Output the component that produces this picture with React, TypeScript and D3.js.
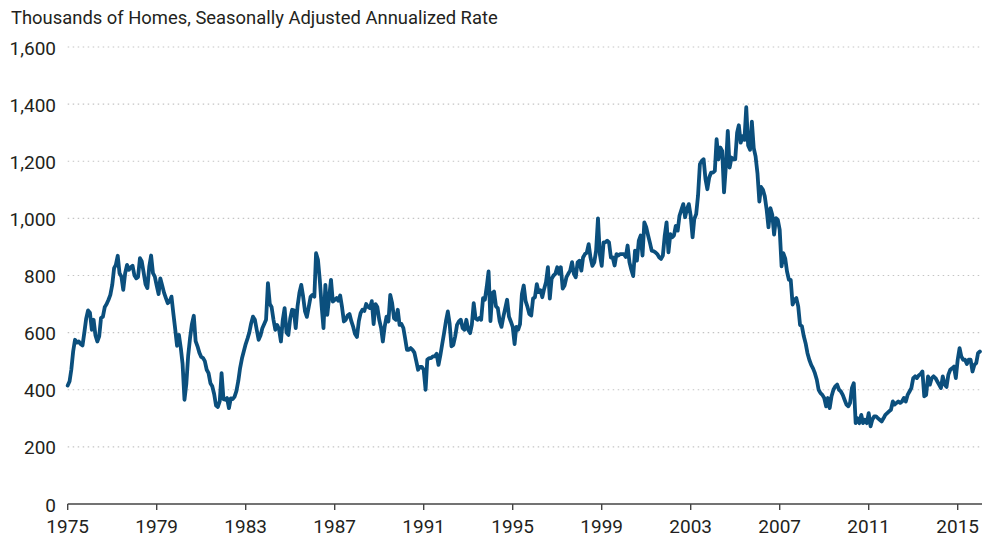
import * as d3 from "d3";
import { useEffect } from "react";

// new single-family home sales, thousands, SAAR, monthly from Jan 1975
const startYear = 1975;

const sales1975to1979 = [
  415, 430, 470, 535, 575, 565, 569, 560, 555, 600, 650, 678, // 1975
  670, 610, 645, 590, 569, 587, 651, 656, 690, 700, 715, 732, // 1976
  767, 826, 837, 869, 808, 796, 750, 808, 837, 820, 829, 834, // 1977
  800, 790, 795, 861, 849, 810, 770, 756, 831, 870, 808, 796, // 1978
  765, 735, 790, 765, 740, 721, 703, 709, 726, 668, 612, 554, // 1979
];

const sales1980to1984 = [
  592, 545, 490, 365, 420, 520, 580, 630, 659, 570, 552, 530, // 1980
  515, 511, 500, 470, 458, 423, 412, 385, 345, 340, 360, 458, // 1981
  367, 365, 371, 336, 370, 367, 375, 395, 430, 476, 510, 535, // 1982
  560, 580, 600, 633, 656, 645, 610, 575, 590, 615, 630, 645, // 1983
  773, 700, 690, 645, 610, 627, 612, 569, 645, 686, 600, 592, // 1984
];

const sales1985to1989 = [
  650, 680, 678, 616, 692, 740, 767, 726, 674, 655, 690, 725, // 1985
  732, 726, 878, 855, 785, 692, 616, 767, 662, 721, 785, 709, // 1986
  715, 721, 712, 730, 690, 639, 645, 660, 665, 640, 620, 595, // 1987
  585, 640, 668, 680, 676, 700, 690, 686, 710, 630, 700, 690, // 1988
  645, 616, 569, 622, 656, 639, 732, 703, 650, 645, 680, 627, // 1989
];

const sales1990to1994 = [
  630, 616, 581, 540, 540, 546, 540, 530, 500, 470, 480, 480, // 1990
  470, 400, 505, 511, 511, 517, 517, 526, 487, 520, 560, 598, // 1991
  640, 674, 633, 552, 557, 587, 627, 639, 645, 616, 610, 645, // 1992
  610, 598, 627, 703, 650, 645, 651, 645, 721, 715, 761, 814, // 1993
  640, 738, 744, 692, 686, 640, 620, 656, 686, 715, 656, 639, // 1994
];

const sales1995to1999 = [
  620, 560, 620, 610, 630, 735, 765, 710, 690, 665, 660, 719, // 1995
  724, 770, 742, 748, 724, 754, 777, 829, 719, 788, 800, 806, // 1996
  829, 806, 829, 754, 765, 794, 806, 817, 847, 806, 794, 846, // 1997
  852, 817, 863, 875, 880, 910, 863, 834, 846, 887, 1000, 875, // 1998
  834, 916, 916, 922, 916, 863, 863, 835, 875, 870, 875, 875, // 1999
];

const sales2000to2004 = [
  875, 865, 905, 846, 820, 798, 887, 852, 922, 940, 870, 986, // 2000
  969, 940, 916, 887, 885, 881, 875, 864, 858, 870, 940, 986, // 2001
  881, 945, 934, 940, 974, 957, 1009, 1030, 1050, 1004, 1033, 1050, // 2002
  1009, 934, 998, 1015, 1079, 1190, 1201, 1207, 1137, 1102, 1143, 1160, // 2003
  1160, 1166, 1277, 1207, 1248, 1236, 1091, 1184, 1306, 1178, 1213, 1207, // 2004
];

const sales2005to2009 = [
  1207, 1300, 1326, 1265, 1288, 1275, 1389, 1255, 1240, 1339, 1246, 1217, // 2005
  1158, 1059, 1110, 1100, 1077, 1030, 969, 1036, 1013, 943, 1001, 995, // 2006
  960, 832, 878, 860, 814, 785, 785, 698, 715, 721, 692, 627, // 2007
  622, 587, 563, 528, 505, 487, 475, 458, 435, 400, 388, 382, // 2008
  371, 342, 371, 336, 377, 400, 412, 418, 400, 394, 382, 365, // 2009
];

const sales2010to2016 = [
  348, 342, 354, 406, 423, 283, 300, 283, 312, 283, 295, 283, // 2010
  318, 272, 295, 307, 307, 300, 295, 289, 300, 312, 318, 324, // 2011
  330, 359, 348, 354, 359, 354, 359, 371, 359, 382, 394, 406, // 2012
  441, 447, 441, 450, 455, 464, 377, 382, 447, 418, 441, 447, // 2013
  441, 429, 418, 406, 447, 418, 410, 453, 470, 475, 481, 441, // 2014
  505, 546, 517, 505, 505, 490, 505, 505, 464, 487, 493, 528, // 2015
  534, // 2016
];

const yTicks = [0, 200, 400, 600, 800, 1000, 1200, 1400, 1600];
const xTickYears = [1975, 1979, 1983, 1987, 1991, 1995, 1999, 2003, 2007, 2011, 2015];

const width = 982;
const height = 539;
const margin = { top: 47, right: 0, bottom: 35, left: 67.7 };
const fontFamily = "Roboto, 'Noto Sans', sans-serif";
const textColor = "#231f20";
const lineColor = "#0b4f7d";

export default function App() {
  useEffect(() => {
    document.body.style.margin = "0";
  }, []);

  const values = [
    ...sales1975to1979,
    ...sales1980to1984,
    ...sales1985to1989,
    ...sales1990to1994,
    ...sales1995to1999,
    ...sales2000to2004,
    ...sales2005to2009,
    ...sales2010to2016,
  ];
  const points = values.map((v, i) => ({ date: new Date(startYear, i, 1), value: v }));

  const xScale = d3
    .scaleTime()
    .domain([new Date(1975, 0, 1), new Date(2015, 0, 1)])
    .range([margin.left, 957.7]);

  const yScale = d3
    .scaleLinear()
    .domain([0, 1600])
    .range([height - margin.bottom, margin.top]);

  const line = d3
    .line<{ date: Date; value: number }>()
    .x((d) => xScale(d.date))
    .y((d) => yScale(d.value));

  const axisY = yScale(0);

  return (
    <svg width={width} height={height} style={{ display: "block" }} fontFamily={fontFamily}>
      <text x={11} y={24} fontSize={18.4} fill={textColor}>
        Thousands of Homes, Seasonally Adjusted Annualized Rate
      </text>

      {/* dotted gridlines */}
      {yTicks
        .filter((t) => t > 0)
        .map((t) => (
          <line
            key={`g${t}`}
            x1={margin.left}
            x2={width}
            y1={yScale(t)}
            y2={yScale(t)}
            stroke="#c4c4c4"
            strokeWidth={1.2}
            strokeDasharray="1.5,3.5"
          />
        ))}

      {yTicks.map((t) => (
        <text
          key={`y${t}`}
          x={56}
          y={yScale(t) + 7.5}
          textAnchor="end"
          fontSize={19}
          fill={textColor}
        >
          {d3.format(",")(t)}
        </text>
      ))}

      <path
        d={line(points) ?? ""}
        fill="none"
        stroke={lineColor}
        strokeWidth={3.8}
        strokeLinejoin="round"
        strokeLinecap="round"
      />

      {/* x axis */}
      <line x1={margin.left} x2={width} y1={axisY} y2={axisY} stroke="#444" strokeWidth={1.4} />
      {xTickYears.map((yr) => {
        const x = xScale(new Date(yr, 0, 1));
        return (
          <g key={`x${yr}`}>
            <line x1={x} x2={x} y1={axisY} y2={axisY + 6} stroke="#444" strokeWidth={1.4} />
            <text x={x} y={533} textAnchor="middle" fontSize={19} fill={textColor}>
              {yr}
            </text>
          </g>
        );
      })}
    </svg>
  );
}
